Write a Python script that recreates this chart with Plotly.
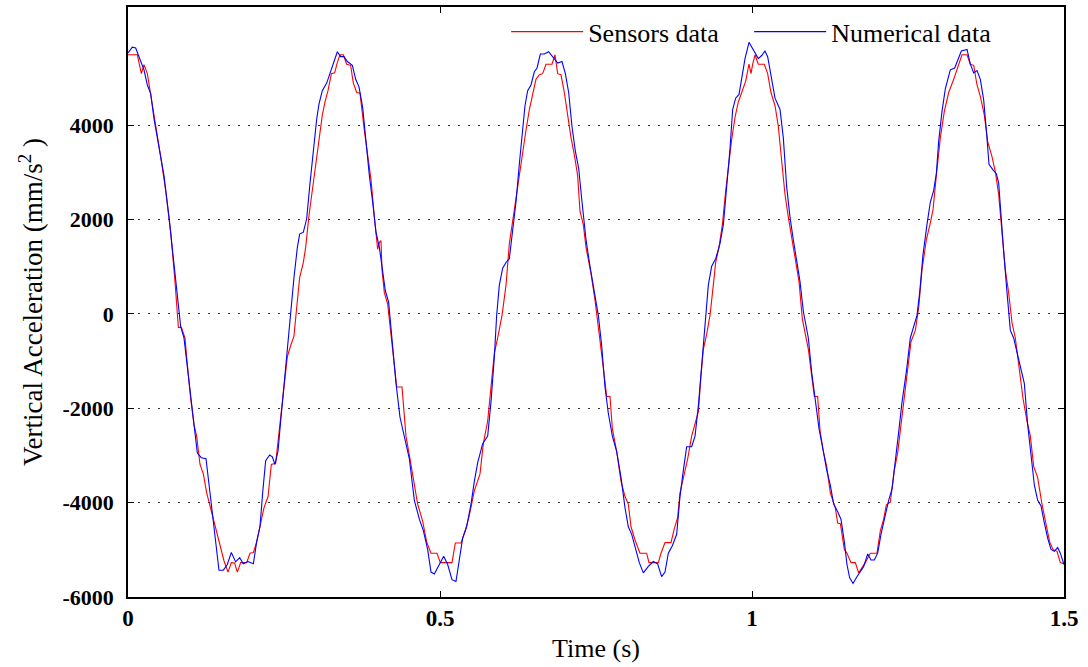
import plotly.graph_objects as go

# ---- Data ----
numerical_t = [0.0, 0.0069, 0.0123, 0.0176, 0.0256, 0.0310, 0.0363, 0.0417, 0.0497, 0.0577,
               0.0657, 0.0737, 0.0791, 0.0844, 0.0897, 0.0951, 0.1004, 0.1058, 0.1111, 0.1175,
               0.1250, 0.1314, 0.1378, 0.1458, 0.1528, 0.1592, 0.1656, 0.1725, 0.1790, 0.1848,
               0.1923, 0.2009, 0.2062, 0.2115, 0.2158, 0.2206, 0.2270, 0.2313, 0.2356, 0.2404,
               0.2447, 0.2500, 0.2553, 0.2607, 0.2660, 0.2714, 0.2751, 0.2810, 0.2863, 0.2917,
               0.2970, 0.3024, 0.3061, 0.3114, 0.3184, 0.3248, 0.3312, 0.3355, 0.3408, 0.3462,
               0.3515, 0.3595, 0.3649, 0.3702,
               0.3761, 0.3814, 0.3868, 0.3921, 0.3974, 0.4028, 0.4081, 0.4124, 0.4177, 0.4231,
               0.4295, 0.4359, 0.4428, 0.4509, 0.4589, 0.4669, 0.4733, 0.4802, 0.4856, 0.4909,
               0.4989, 0.5059, 0.5123, 0.5192, 0.5256, 0.5310, 0.5363, 0.5427, 0.5497, 0.5550,
               0.5604, 0.5684, 0.5764, 0.5817, 0.5871, 0.5908, 0.5951, 0.6004, 0.6058, 0.6111,
               0.6165, 0.6218, 0.6271, 0.6325, 0.6362, 0.6405, 0.6458, 0.6512, 0.6555, 0.6608,
               0.6672, 0.6741, 0.6806, 0.6886, 0.6955, 0.7009, 0.7062, 0.7115, 0.7169, 0.7222,
               0.7276, 0.7340, 0.7404,
               0.7484, 0.7537, 0.7591, 0.7644, 0.7698, 0.7762, 0.7831, 0.7901, 0.7965, 0.8018,
               0.8072, 0.8136, 0.8194, 0.8259, 0.8339, 0.8419, 0.8488, 0.8552, 0.8606, 0.8659,
               0.8723, 0.8793, 0.8846, 0.8900, 0.8953, 0.9033, 0.9087, 0.9140, 0.9194, 0.9247,
               0.9300, 0.9354, 0.9418, 0.9487, 0.9541, 0.9594, 0.9647, 0.9690, 0.9738, 0.9792,
               0.9835, 0.9888, 0.9952, 0.9995, 1.0048, 1.0101, 1.0155, 1.0208, 1.0251, 1.0304,
               1.0369, 1.0449, 1.0502, 1.0556, 1.0609, 1.0662, 1.0716, 1.0769, 1.0823, 1.0903,
               1.0956, 1.1010, 1.1074, 1.1143, 1.1197,
               1.1255, 1.1309, 1.1373, 1.1426, 1.1480, 1.1522, 1.1565, 1.1619, 1.1672, 1.1736,
               1.1790, 1.1854, 1.1907, 1.1961, 1.2014, 1.2067, 1.2121, 1.2190, 1.2244, 1.2297,
               1.2350, 1.2404, 1.2473, 1.2537, 1.2591, 1.2644, 1.2687, 1.2740, 1.2804, 1.2858,
               1.2911, 1.2954, 1.2991, 1.3045, 1.3098, 1.3178, 1.3248, 1.3301, 1.3355, 1.3446,
               1.3499, 1.3553, 1.3606, 1.3659, 1.3713, 1.3756, 1.3798, 1.3862, 1.3916, 1.3953,
               1.3990, 1.4033, 1.4087, 1.4140, 1.4193, 1.4247, 1.4311, 1.4364, 1.4418, 1.4471,
               1.4525, 1.4578, 1.4632, 1.4685, 1.4738, 1.4792, 1.4845, 1.4899, 1.4941, 1.5]
numerical_acc = [5528, 5648, 5632, 5448, 5168, 4848, 4672, 4128, 3568, 2928,
                 2048, 1088, 448, -272, -512, -1152, -1792, -2352, -2952, -3048,
                 -3072, -3792, -4512, -5432, -5432, -5312, -5056, -5256, -5168, -5296,
                 -5248, -5296, -4832, -4512, -3792, -3112, -2992, -3032, -3192, -2912,
                 -2272, -1472, -672, 48, 768, 1408, 1688, 1728, 2008, 2768,
                 3488, 4128, 4448, 4728, 4888, 5128, 5408, 5552, 5448, 5448,
                 5344, 5264, 4968, 4808,
                 4368, 3648, 2928, 2368, 1728, 1408, 928, 488, 248, -512,
                 -1472, -2192, -2592, -3072, -3952, -4352, -4592, -4992, -5472, -5512,
                 -5312, -5136, -5312, -5632, -5672, -5232, -4752, -4512, -4032, -3552,
                 -3152, -2752, -2592, -1872, -912, -32, 608, 968, 1088, 1168,
                 1728, 2368, 3168, 3968, 4408, 4728, 4848, 5128, 5208, 5504,
                 5504, 5552, 5448, 5312, 5344, 5088, 4688, 3968, 3448, 3088,
                 2368, 1568, 1008,
                 328, -32, -672, -1552, -2112, -2592, -2912, -3472, -4112, -4512,
                 -4672, -4992, -5272, -5488, -5352, -5248, -5296, -5568, -5472, -5072,
                 -4912, -4672, -3872, -3312, -2816, -2816, -2592, -1952, -1072, -272,
                 608, 1008, 1168, 1488, 1888, 2688, 3488, 4328, 4568, 4648,
                 5008, 5408, 5752, 5648, 5528, 5408, 5472, 5568, 5448, 5008,
                 4568, 4328, 3728, 2688, 2048, 1568, 1088, 688, 48, -512,
                 -1232, -1792, -2432, -2912, -3312,
                 -3632, -4032, -4192, -4352, -4832, -5312, -5592, -5712, -5592, -5472,
                 -5352, -5088, -5216, -5216, -5072, -4672, -4352, -3952, -3712, -3152,
                 -2512, -1872, -1232, -512, -272, -32, 448, 1248, 1888, 2368,
                 2608, 2968, 3648, 4288, 4768, 5168, 5208, 5368, 5568, 5600,
                 5288, 5104, 5152, 4968, 4528, 3888, 3168, 3048, 2968, 2768,
                 2048, 1328, 448, -352, -512, -832, -1152, -1472, -2352, -2992,
                 -3632, -3952, -4072, -4432, -4752, -4992, -5032, -4952, -5072, -5312]

sensors_t = [0.0, 0.0150, 0.0214, 0.0256, 0.0310, 0.0363, 0.0443, 0.0524, 0.0604, 0.0684,
             0.0748, 0.0807, 0.0855, 0.0913, 0.0951, 0.1004, 0.1058, 0.1100, 0.1154, 0.1207,
             0.1261, 0.1335, 0.1405, 0.1474, 0.1538, 0.1603, 0.1656, 0.1709, 0.1752, 0.1806,
             0.1902, 0.1955, 0.2009, 0.2062, 0.2126, 0.2179, 0.2244, 0.2297, 0.2366, 0.2420,
             0.2489, 0.2553, 0.2607, 0.2660, 0.2703, 0.2751, 0.2810, 0.2847, 0.2901, 0.2954,
             0.3008, 0.3061, 0.3114, 0.3157, 0.3205, 0.3259, 0.3312, 0.3355, 0.3397, 0.3451,
             0.3504, 0.3568, 0.3611, 0.3665, 0.3718,
             0.3787, 0.3841, 0.3894, 0.3948, 0.4001, 0.4028, 0.4054, 0.4071, 0.4108, 0.4161,
             0.4215, 0.4268, 0.4306, 0.4391, 0.4455, 0.4519, 0.4589, 0.4642, 0.4722, 0.4786,
             0.4856, 0.4952, 0.5005, 0.5192, 0.5246, 0.5337, 0.5406, 0.5470, 0.5550, 0.5641,
             0.5694, 0.5764, 0.5817, 0.5871, 0.5924, 0.5994, 0.6058, 0.6111, 0.6165, 0.6218,
             0.6271, 0.6325, 0.6378, 0.6432, 0.6485, 0.6538, 0.6592, 0.6645, 0.6699, 0.6795,
             0.6843, 0.6886, 0.6939, 0.6993, 0.7046, 0.7100, 0.7153, 0.7206, 0.7244, 0.7297,
             0.7340, 0.7420,
             0.7484, 0.7564, 0.7618, 0.7671, 0.7724, 0.7762, 0.7831, 0.7901, 0.7965, 0.8018,
             0.8061, 0.8125, 0.8205, 0.8312, 0.8349, 0.8499, 0.8542, 0.8606, 0.8702, 0.8755,
             0.8809, 0.8846, 0.8900, 0.8969, 0.9033, 0.9087, 0.9140, 0.9183, 0.9220, 0.9274,
             0.9327, 0.9380, 0.9418, 0.9471, 0.9525, 0.9578, 0.9631, 0.9674, 0.9728, 0.9781,
             0.9835, 0.9899, 0.9952, 0.9984, 1.0011, 1.0048, 1.0101, 1.0198, 1.0251, 1.0304,
             1.0369, 1.0422, 1.0475, 1.0529, 1.0582, 1.0646, 1.0700, 1.0753, 1.0807, 1.0860,
             1.0903, 1.0956, 1.0999, 1.1052, 1.1090, 1.1143, 1.1197,
             1.1255, 1.1335, 1.1373, 1.1416, 1.1480, 1.1522, 1.1587, 1.1656, 1.1709, 1.1763,
             1.1816, 1.1896, 1.2003, 1.2057, 1.2110, 1.2153, 1.2217, 1.2281, 1.2334, 1.2388,
             1.2441, 1.2495, 1.2548, 1.2618, 1.2671, 1.2724, 1.2794, 1.2858, 1.2901, 1.2954,
             1.3018, 1.3082, 1.3152, 1.3232, 1.3296, 1.3365, 1.3446, 1.3499, 1.3553, 1.3606,
             1.3659, 1.3723, 1.3777, 1.3846, 1.3900, 1.3953, 1.4006, 1.4060, 1.4113, 1.4167,
             1.4220, 1.4274, 1.4343, 1.4407, 1.4461, 1.4514, 1.4578, 1.4647, 1.4717, 1.4770,
             1.4824, 1.4888, 1.4941, 1.5]
sensors_acc = [5488, 5488, 5088, 5280, 5088, 4672, 4048, 3328, 2608, 1728,
               768, -288, -288, -512, -1072, -1792, -2352, -2592, -3192, -3392,
               -3792, -4192, -4512, -4912, -5232, -5472, -5272, -5280, -5472, -5272,
               -5272, -5072, -5056, -4832, -4432, -4112, -3872, -3192, -3168, -2512,
               -1792, -912, -672, -472, 128, 768, 1088, 1408, 2088, 2608,
               3168, 3728, 4208, 4488, 4728, 5088, 5104, 5328, 5488, 5488,
               5288, 5264, 4888, 4688, 4672,
               3888, 3328, 2848, 2048, 1368, 1504, 1552, 928, 448, 208,
               -432, -1072, -1552, -1552, -2592, -3072, -3592, -4032, -4392, -4832,
               -5072, -5072, -5272, -5272, -4856, -4856, -4592, -4272, -3752, -3392,
               -2752, -2272, -1552, -832, -512, -32, 608, 1488, 1968, 2448,
               3008, 3448, 3888, 4328, 4688, 4968, 5064, 5088, 5288, 5288,
               5488, 5088, 5064, 4688, 4208, 3728, 3368, 2928, 2168, 1888,
               1408, 848,
               288, -512, -1152, -1752, -1752, -2432, -2912, -3552, -3872, -4032,
               -4512, -4792, -5072, -5072, -5272, -5272, -5072, -4848, -4848, -4552,
               -4312, -3792, -3472, -3072, -2592, -2352, -2072, -1312, -752, -432,
               -32, 608, 1088, 1408, 1888, 2608, 3248, 3688, 4168, 4488,
               4688, 4928, 5288, 5088, 5288, 5488, 5288, 5288, 5088, 4688,
               4408, 3968, 3248, 2528, 2048, 1568, 1088, 688, -112, -512,
               -752, -1312, -1752, -1752, -2472, -2912, -3232,
               -3792, -4112, -4432, -4448, -4992, -5072, -5272, -5272, -5488, -5376,
               -5272, -5072, -5072, -4592, -4352, -4048, -3992, -3312, -2952, -2352,
               -1792, -1152, -592, -352, 128, 928, 1568, 1928, 2208, 2928,
               3728, 4288, 4688, 4968, 5208, 5488, 5488, 5288, 5264, 4848,
               4608, 4208, 3648, 3328, 3008, 2528, 1728, 928, 448, -192,
               -512, -1072, -1792, -2272, -2592, -3232, -3472, -4032, -4512, -4832,
               -4992, -5032, -5272, -5296]

x_tick_vals = [0, 0.5, 1, 1.5]
x_tick_text = ["0", "0.5", "1", "1.5"]
y_tick_vals = [-6000, -4000, -2000, 0, 2000, 4000]
y_tick_text = ["-6000", "-4000", "-2000", "0", "2000", "4000"]

FONT = "Liberation Serif"

fig = go.Figure()
fig.add_trace(go.Scatter(x=sensors_t, y=sensors_acc, mode="lines", name="Sensors data",
                         line=dict(color="#ff0000", width=1.1)))
fig.add_trace(go.Scatter(x=numerical_t, y=numerical_acc, mode="lines", name="Numerical data",
                         line=dict(color="#0000ff", width=1.1)))

fig.update_layout(
    width=1088, height=667,
    margin=dict(l=128, r=24, t=7, b=70, autoexpand=False),
    paper_bgcolor="white", plot_bgcolor="white",
    font=dict(family=FONT, size=22, color="black"),
    showlegend=True,
    legend=dict(orientation="h", x=0.404, y=0.998, xanchor="left", yanchor="top",
                bgcolor="rgba(255,255,255,0)", borderwidth=0,
                font=dict(family=FONT, size=26, color="black"),
                itemwidth=72, tracegroupgap=0,
                entrywidth=156, entrywidthmode="pixels"),
)
fig.update_xaxes(
    range=[0, 1.5], tickvals=x_tick_vals, ticktext=x_tick_text,
    showgrid=False, zeroline=False,
    showline=True, linecolor="black", linewidth=1.5, mirror="ticks",
    ticks="inside", ticklen=6, tickcolor="black", tickwidth=1,
    tickfont=dict(family=FONT, size=23, weight="bold"),
    title=dict(text="Time (s)", font=dict(family=FONT, size=26), standoff=8),
)
fig.update_yaxes(
    range=[-6000, 6500], tickvals=y_tick_vals, ticktext=y_tick_text,
    showgrid=True, gridcolor="#333333", gridwidth=1, griddash="2px,8px",
    zeroline=False,
    showline=True, linecolor="black", linewidth=1.5, mirror="ticks",
    ticks="inside", ticklen=6, tickcolor="black", tickwidth=1,
    tickfont=dict(family=FONT, size=22, weight="bold"),
    ticklabelstandoff=8,
    title=dict(text="Vertical Acceleration (mm/s<sup>2</sup> )", font=dict(family=FONT, size=27), standoff=12),
)

fig.write_html("out.html")
